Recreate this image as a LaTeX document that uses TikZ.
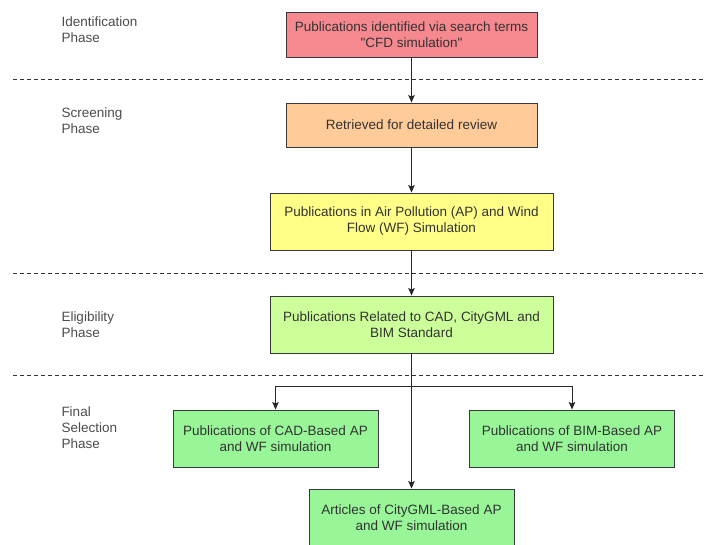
\documentclass[tikz,border=0pt]{standalone}
\usepackage{fontspec}
\setmainfont{Liberation Sans}[Ligatures=TeXOff]
\usetikzlibrary{arrows,arrows.meta,positioning,shapes}

\definecolor{boxline}{HTML}{36393D}
\definecolor{idred}{HTML}{F5898F}
\definecolor{scrorange}{HTML}{FFCC99}
\definecolor{scryellow}{HTML}{FFFF88}
\definecolor{eligreen}{HTML}{CCFF99}
\definecolor{fingreen}{HTML}{98F598}

\begin{document}
\begin{tikzpicture}[->,>={Stealth[length=7.5pt,width=6.5pt,inset=1.5pt]},line width=1pt,draw=black!85,x=1pt,y=-1pt]
\tikzstyle{every node}=[font=\fontsize{13.5}{16}\selectfont]
\tikzstyle{stage}=[rectangle,draw=boxline,line width=0.9pt,text=black!80,align=center,minimum height=57pt,inner sep=2pt]
\tikzstyle{phasetext}=[text=black!70,align=left,anchor=west,inner sep=0pt]
\tikzstyle{divider}=[-,dash pattern=on 4pt off 3pt,black!80,line width=0.8pt]

\useasboundingbox (0,0) rectangle (710,545);

% phase labels
\node[phasetext] (L1) at (61,30)  {Identification\\Phase};
\node[phasetext] (L2) at (61,121) {Screening\\Phase};
\node[phasetext] (L3) at (61,325) {Eligibility\\Phase};
\node[phasetext] (L4) at (61,428) {Final\\Selection\\Phase};

% dividers
\draw[divider] (13,79)  -- (703,79);
\draw[divider] (13,273) -- (703,273);
\draw[divider] (13,375) -- (703,375);

\node[stage,fill=idred,minimum width=251pt,minimum height=45pt]     (A) at (411.5,34.5)  {Publications identified via search terms\\"CFD simulation"};
\node[stage,fill=scrorange,minimum width=251pt,minimum height=44pt] (B) at (411.5,125)   {Retrieved for detailed review};
\node[stage,fill=scryellow,minimum width=283pt] (C) at (411.5,221.5) {Publications in Air Pollution (AP) and Wind\\Flow (WF) Simulation};
\node[stage,fill=eligreen,minimum width=283pt]  (D) at (411.5,324.5) {Publications Related to CAD, CityGML and\\BIM Standard};
\node[stage,fill=fingreen,minimum width=205pt]  (E) at (275.5,438.5) {Publications of CAD-Based AP\\and WF simulation};
\node[stage,fill=fingreen,minimum width=205pt]  (F) at (572,438.5)   {Publications of BIM-Based AP\\and WF simulation};
\node[stage,fill=fingreen,minimum width=205pt]  (G) at (411.5,517.5) {Articles of CityGML-Based AP\\and WF simulation};

\coordinate (split) at (411.5,387);

\path
(A) edge (B)
(B) edge (C)
(C) edge (D)
(D) edge (G);
\draw (split) -| (E.north);
\draw (split) -| (F.north);
\end{tikzpicture}
\end{document}
